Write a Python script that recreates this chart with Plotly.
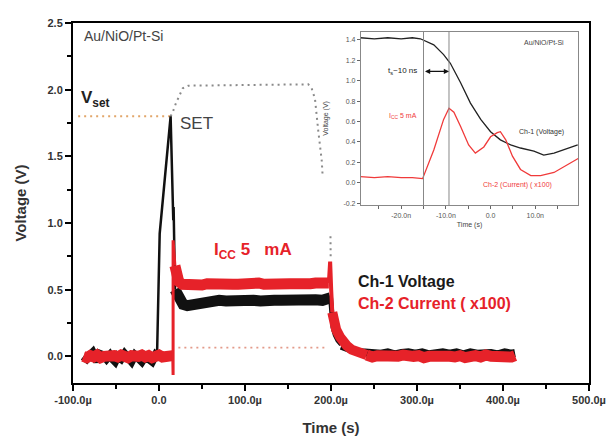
import plotly.graph_objects as go

# ---------------- main panel data (time in µs, voltage in V) ----------------
black_base_t = [-88, -84, -80, -77, -74, -72, -69, -65, -61, -57, -54, -51, -48, -44, -40, -36, -32, -28, -24, -20, -16, -12, -8, -4, -2.3]
black_base_v = [0.0, -0.02, 0.01, 0.03, -0.01, -0.04, 0.02, 0.01, -0.02, 0.01, -0.02, -0.04, 0.0, -0.02, 0.02, -0.01, -0.04, 0.01, -0.02, -0.04, 0.0, -0.02, -0.04, 0.01, 0.0]

black_set_t = [-2.3, 0.8, 13.5, 15.8, 16.6, 17.0, 17.4, 17.8, 18.2, 18.6]
black_set_v = [0.0, 0.92, 1.8, 1.15, 1.02, 1.12, 0.98, 1.06, 0.8, 0.5]

black_hold_t = [18.6, 21, 24, 28, 33, 38, 44, 50, 56, 62, 70, 78, 86, 94, 102, 110, 118, 126, 134, 142, 150, 158, 166, 174, 182, 190, 196, 199.5]
black_hold_v = [0.5, 0.46, 0.42, 0.39, 0.38, 0.385, 0.40, 0.41, 0.415, 0.415, 0.42, 0.415, 0.42, 0.425, 0.42, 0.42, 0.415, 0.425, 0.42, 0.42, 0.425, 0.42, 0.425, 0.42, 0.425, 0.42, 0.425, 0.44]

black_reset_t = [199.5, 200.5, 202.3, 205, 208, 212]
black_reset_v = [0.44, 0.32, 0.22, 0.16, 0.12, 0.09]

black_tail_t = [212, 218, 224, 230, 236, 242, 250, 258, 266, 274, 282, 290, 298, 306, 314, 322, 330, 338, 346, 354, 362, 370, 378, 386, 394, 402, 410, 414]
black_tail_v = [0.08, 0.06, 0.045, 0.035, 0.03, 0.025, 0.03, 0.02, 0.03, 0.015, 0.025, 0.03, 0.02, 0.03, 0.015, 0.025, 0.03, 0.02, 0.03, 0.015, 0.03, 0.02, 0.03, 0.025, 0.015, 0.03, 0.02, 0.025]

red_base_t = [-88, -84, -80, -76, -72, -68, -64, -60, -56, -52, -48, -44, -40, -36, -32, -28, -24, -20, -16, -12, -8, -4, 0, 4, 8, 12, 16.0]
red_base_v = [0.0, -0.01, 0.005, -0.005, 0.01, -0.01, 0.0, 0.005, -0.01, 0.005, -0.005, 0.01, 0.0, -0.01, 0.005, -0.005, 0.0, 0.01, -0.005, 0.005, -0.01, 0.0, 0.01, -0.005, 0.005, 0.0, 0.005]

red_set_t = [16.0, 16.4, 16.4, 17.2, 18.5]
red_set_v = [0.01, -0.14, 0.87, 0.80, 0.68]

red_hold_t = [18.5, 20, 23, 27, 32, 38, 44, 50, 56, 62, 68, 74, 80, 86, 92, 98, 104, 110, 116, 122, 128, 134, 140, 146, 152, 158, 164, 170, 176, 182, 188, 194, 197.5]
red_hold_v = [0.68, 0.6, 0.56, 0.54, 0.535, 0.54, 0.54, 0.535, 0.545, 0.54, 0.54, 0.54, 0.545, 0.54, 0.54, 0.545, 0.54, 0.545, 0.55, 0.54, 0.545, 0.545, 0.54, 0.55, 0.545, 0.545, 0.54, 0.55, 0.545, 0.55, 0.545, 0.55, 0.55]

red_peak_t = [197.5, 199.0, 200.2, 201.5]
red_peak_v = [0.55, 0.71, 0.5, 0.33]

red_decay_t = [201.5, 202.7, 206, 210.5, 214, 218.3, 224, 229.9, 236, 241.5]
red_decay_v = [0.33, 0.27, 0.2, 0.145, 0.11, 0.08, 0.05, 0.03, 0.02, 0.01]

red_tail_t = [241.5, 248, 254, 260, 266, 272, 278, 284, 290, 296, 302, 308, 314, 320, 326, 332, 338, 344, 350, 356, 362, 368, 374, 380, 386, 392, 398, 404, 410, 414]
red_tail_v = [0.01, -0.005, 0.005, 0.0, -0.01, 0.005, 0.0, 0.01, -0.005, 0.0, 0.005, -0.01, 0.0, 0.005, -0.005, 0.01, 0.0, -0.005, 0.005, -0.01, 0.0, 0.005, -0.005, 0.01, 0.0, -0.005, 0.005, 0.0, -0.005, 0.005]

# guide lines
vset_ref_t = [-94, 13.5]
vset_ref_v = [1.8, 1.8]
pulse_t = [13.5, 15.9, 19.8, 23.6, 27.6, 34.1, 173.6, 177.5, 181.4, 185.2, 189.2, 190.3, None, 199.4, 199.6]
pulse_v = [1.80, 1.83, 1.90, 1.96, 2.01, 2.03, 2.04, 2.01, 1.93, 1.69, 1.47, 1.35, None, 0.90, 0.75]
icc_ref_t = [22.5, 196]
icc_ref_v = [0.065, 0.065]

x_tick_vals = [-100, 0, 100, 200, 300, 400, 500]
x_tick_text = ["-100.0µ", "0.0", "100.0µ", "200.0µ", "300.0µ", "400.0µ", "500.0µ"]
y_tick_vals = [0.0, 0.5, 1.0, 1.5, 2.0, 2.5]
y_tick_text = ["0.0", "0.5", "1.0", "1.5", "2.0", "2.5"]

# ---------------- inset data (time in ns) ----------------
in_v_t = [-29.1, -26, -23, -20, -17.5, -15.7, -12.7, -10.5, -9.0, -6.7, -4.5, -2.2, 0.0, 2.2, 4.5, 6.7, 9.7, 11.9, 14.2, 16.4, 19.5]
in_v_v = [1.42, 1.41, 1.42, 1.41, 1.42, 1.41, 1.35, 1.255, 1.17, 0.98, 0.78, 0.62, 0.50, 0.42, 0.37, 0.34, 0.31, 0.27, 0.29, 0.32, 0.37]
in_i_t = [-29.1, -26, -23, -20, -17.5, -15.2, -12.7, -10.5, -9.3, -8.2, -6.7, -4.9, -3.4, -1.5, 0.0, 1.5, 2.2, 3.4, 4.9, 6.7, 9.0, 11.2, 14.2, 17.3, 19.7]
in_i_v = [0.06, 0.05, 0.06, 0.05, 0.05, 0.04, 0.32, 0.62, 0.73, 0.69, 0.55, 0.37, 0.29, 0.35, 0.45, 0.49, 0.50, 0.42, 0.26, 0.13, 0.07, 0.07, 0.10, 0.18, 0.24]
in_marks = [-15.0, -9.3]
in_x_vals = [-20, -10, 0, 10]
in_x_text = ["-20.0n", "-10.0n", "0.0", "10.0n"]
in_y_vals = [-0.2, 0.0, 0.2, 0.4, 0.6, 0.8, 1.0, 1.2, 1.4]
in_y_text = ["-0.2", "0.0", "0.2", "0.4", "0.6", "0.8", "1.0", "1.2", "1.4"]

RED = "#e62229"
BLK = "#111111"
FONT = "Arial, Liberation Sans, sans-serif"

fig = go.Figure()

def line(t, v, color, width, dash=None, xa="x", ya="y"):
    fig.add_trace(go.Scatter(x=t, y=v, mode="lines", xaxis=xa, yaxis=ya,
                             line=dict(color=color, width=width, dash=dash),
                             hoverinfo="skip", showlegend=False, connectgaps=False))

# guide lines
line(vset_ref_t, vset_ref_v, "#e2a66a", 2, "2px,4px")
line(pulse_t, pulse_v, "#8a8a8a", 2, "2px,4px")
line(icc_ref_t, icc_ref_v, "#e39a8a", 1.6, "2px,4px")

# Ch-1 voltage
line(black_base_t, black_base_v, BLK, 8)
line(black_set_t, black_set_v, BLK, 2.5)
line(black_hold_t, black_hold_v, BLK, 11)
line(black_reset_t, black_reset_v, BLK, 5)
line(black_tail_t, black_tail_v, BLK, 8)

# Ch-2 current
line(red_base_t, red_base_v, RED, 11)
line(red_set_t, red_set_v, RED, 3)
line(red_hold_t, red_hold_v, RED, 11)
line(red_peak_t, red_peak_v, RED, 4)
line(red_decay_t, red_decay_v, RED, 10)
line(red_tail_t, red_tail_v, RED, 11)

# inset traces
line(in_v_t, in_v_v, "#222222", 1.3, xa="x2", ya="y2")
line(in_i_t, in_i_v, "#f03a3a", 1.3, xa="x2", ya="y2")

axis_font = dict(family=FONT, size=11, color="#333333", weight="bold")
in_font = dict(family=FONT, size=7, color="#555555")

fig.update_layout(
    width=614, height=438,
    margin=dict(l=73, r=25, t=23, b=55),
    paper_bgcolor="white", plot_bgcolor="white",
    font=dict(family=FONT),
    xaxis=dict(range=[-100, 500], automargin=False, tickmode="array", tickvals=x_tick_vals, ticktext=x_tick_text,
               ticks="outside", ticklen=6, tickwidth=2, tickcolor="black",
               showline=True, linewidth=2, linecolor="black", mirror=True,
               showgrid=False, zeroline=False, tickfont=axis_font,
               minor=dict(tickmode="array", tickvals=[-50, 50, 150, 250, 350, 450], ticks="outside",
                          ticklen=4, tickwidth=2, tickcolor="black", showgrid=False),
               title=dict(text="Time (s)", font=dict(family=FONT, size=15, color="#333333", weight="bold"),
                          standoff=17)),
    yaxis=dict(range=[-0.2, 2.5], automargin=False, tickmode="array", tickvals=y_tick_vals, ticktext=y_tick_text,
               ticks="outside", ticklen=6, tickwidth=2, tickcolor="black",
               showline=True, linewidth=2, linecolor="black", mirror=True,
               showgrid=False, zeroline=False, tickfont=axis_font,
               minor=dict(tickmode="array", tickvals=[0.25, 0.75, 1.25, 1.75, 2.25], ticks="outside",
                          ticklen=4, tickwidth=2, tickcolor="black", showgrid=False),
               title=dict(text="Voltage (V)", font=dict(family=FONT, size=15, color="#333333", weight="bold"),
                          standoff=17)),
    xaxis2=dict(domain=[0.558, 0.979], anchor="y2", automargin=False, range=[-29, 19.6], tickmode="array",
                tickvals=in_x_vals, ticktext=in_x_text, ticks="outside", ticklen=3, tickwidth=1,
                tickcolor="#666666", showline=True, linewidth=1, linecolor="#888888", mirror=True,
                showgrid=False, zeroline=False, tickfont=in_font,
                minor=dict(tickmode="array", tickvals=[-25, -15, -5, 5, 15], ticks="outside",
                           ticklen=3, tickwidth=1, tickcolor="#666666", showgrid=False),
                title=dict(text="Time (s)", font=dict(family=FONT, size=7, color="#444444"), standoff=4)),
    yaxis2=dict(domain=[0.494, 0.976], anchor="x2", automargin=False, range=[-0.22, 1.48], tickmode="array",
                tickvals=in_y_vals, ticktext=in_y_text, ticks="outside", ticklen=3, tickwidth=1,
                tickcolor="#666666", showline=True, linewidth=1, linecolor="#888888", mirror=True,
                showgrid=False, zeroline=False, tickfont=in_font,
                title=dict(text="Voltage (V)", font=dict(family=FONT, size=7, color="#444444"), standoff=14)),
)

for m in in_marks:
    fig.add_shape(type="line", xref="x2", yref="y2 domain", x0=m, x1=m, y0=0, y1=1,
                  line=dict(color="#888888", width=1))

ann = []
def text(x, y, s, size, color, xanchor="left", bold=False, xref="x", yref="y"):
    ann.append(dict(x=x, y=y, xref=xref, yref=yref, text=s, showarrow=False, xanchor=xanchor,
                    yanchor="middle", font=dict(family=FONT, size=size, color=color,
                                                weight="bold" if bold else "normal")))

text(-90, 2.40, "Au/NiO/Pt-Si", 14, "#444444")
text(-93, 1.93, "V<sub>set</sub>", 17, "#222222", bold=True)
text(22, 1.75, "SET", 17, "#444444")
text(62, 0.79, "I<sub>CC</sub> 5&nbsp;&nbsp;&nbsp;mA", 17, RED, bold=True)
text(229, 0.56, "Ch-1 Voltage", 16, "#1a1a1a", bold=True)
text(229, 0.40, "Ch-2 Current ( x100)", 16, RED, bold=True)

text(16.8, 1.375, "Au/NiO/Pt-Si", 7, "#444444", xanchor="right", xref="x2", yref="y2")
text(-15.9, 1.09, "t<sub>s</sub>~10 ns", 8, "#222222", xanchor="right", xref="x2", yref="y2")
text(-15.9, 0.65, "I<sub>CC</sub> 5 mA", 7, "#f03a3a", xanchor="right", xref="x2", yref="y2")
text(16.8, 0.50, "Ch-1 (Voltage)", 7, "#333333", xanchor="right", xref="x2", yref="y2")
text(14.1, -0.02, "Ch-2 (Current) ( x100)", 7, "#f03a3a", xanchor="right", xref="x2", yref="y2")

ann.append(dict(x=-9.3, y=1.09, ax=-15.0, ay=1.09, xref="x2", yref="y2", axref="x2", ayref="y2",
                text="", showarrow=True, arrowhead=2, arrowside="end+start", arrowsize=0.8,
                arrowwidth=1.3, arrowcolor="#111111"))

fig.update_layout(annotations=ann)
fig.write_html("out.html", config={"displayModeBar": False},
               post_script="document.body.style.margin='0px';")
